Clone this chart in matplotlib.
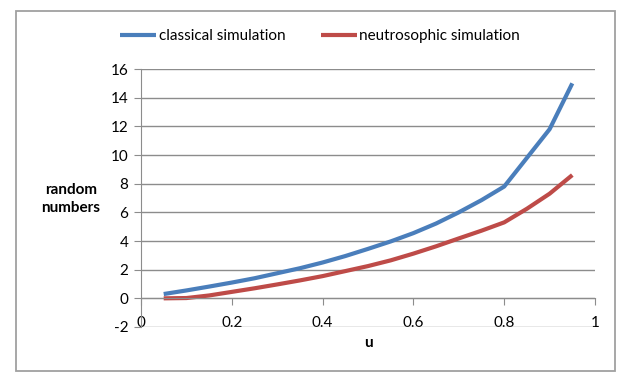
import numpy as np
import matplotlib.pyplot as plt
from matplotlib.patches import Rectangle

plt.rcParams['font.family'] = ['Lato', 'DejaVu Sans']
plt.rcParams['axes.unicode_minus'] = False

u = [0.05, 0.10, 0.15, 0.20, 0.25, 0.30, 0.35, 0.40, 0.45, 0.50,
     0.55, 0.60, 0.65, 0.70, 0.75, 0.80, 0.85, 0.90, 0.95]
classical = [0.3, 0.55, 0.82, 1.1, 1.4, 1.75, 2.1, 2.5, 2.95, 3.45,
             3.97, 4.55, 5.22, 6.0, 6.85, 7.8, 9.8, 11.8, 15.0]
neutrosophic = [0.0, 0.02, 0.2, 0.45, 0.7, 0.97, 1.25, 1.55, 1.9, 2.25,
                2.65, 3.12, 3.63, 4.18, 4.72, 5.3, 6.25, 7.3, 8.6]
xticks = [0, 0.2, 0.4, 0.6, 0.8, 1]
yticks = list(range(-2, 17, 2))

grid_c = '#8c8c8c'
fig = plt.figure(figsize=(6.27, 3.77), dpi=100)
ax = fig.add_axes([141/627, 1-327/377, (595-141)/627, (327-69)/377])

ax.plot(u, classical, color='#4a7ebb', lw=3, label='classical simulation', solid_capstyle='butt')
ax.plot(u, neutrosophic, color='#be4b48', lw=3, label='neutrosophic simulation', solid_capstyle='butt')

ax.set_xlim(0, 1)
ax.set_ylim(-2, 16)
ax.set_xticks(xticks)
ax.set_xticklabels(['0', '0.2', '0.4', '0.6', '0.8', '1'])
ax.set_yticks(yticks)
ax.yaxis.grid(True, color=grid_c, lw=1)
ax.set_axisbelow(True)
for s in ['top', 'right']:
    ax.spines[s].set_visible(False)
ax.spines['bottom'].set_position(('data', 0))
ax.spines['bottom'].set_color(grid_c)
ax.spines['left'].set_color(grid_c)
ax.tick_params(axis='x', colors=grid_c, labelcolor='black', length=5, pad=8, labelsize=11)
ax.tick_params(axis='y', colors=grid_c, labelcolor='black', length=5, pad=4, labelsize=11)

fig.text(71/627, 1-199/377, 'random\nnumbers', ha='center', va='center',
         fontsize=11, fontweight='bold', linespacing=1.3)
fig.text(368/627, 1-343/377, 'u', ha='center', va='center', fontsize=11, fontweight='bold')

fig.legend(loc='center', bbox_to_anchor=(320/627, 1-36/377), ncol=2, frameon=False,
           fontsize=11, handlelength=2.4, handletextpad=0.15, columnspacing=2.3)

fig.patches.append(Rectangle((16/627, 1-371/377), (615-16)/627, (371-11)/377,
                             transform=fig.transFigure, fill=False, edgecolor='#a0a0a0', lw=1.3))

fig.savefig('out.png', dpi=100)
